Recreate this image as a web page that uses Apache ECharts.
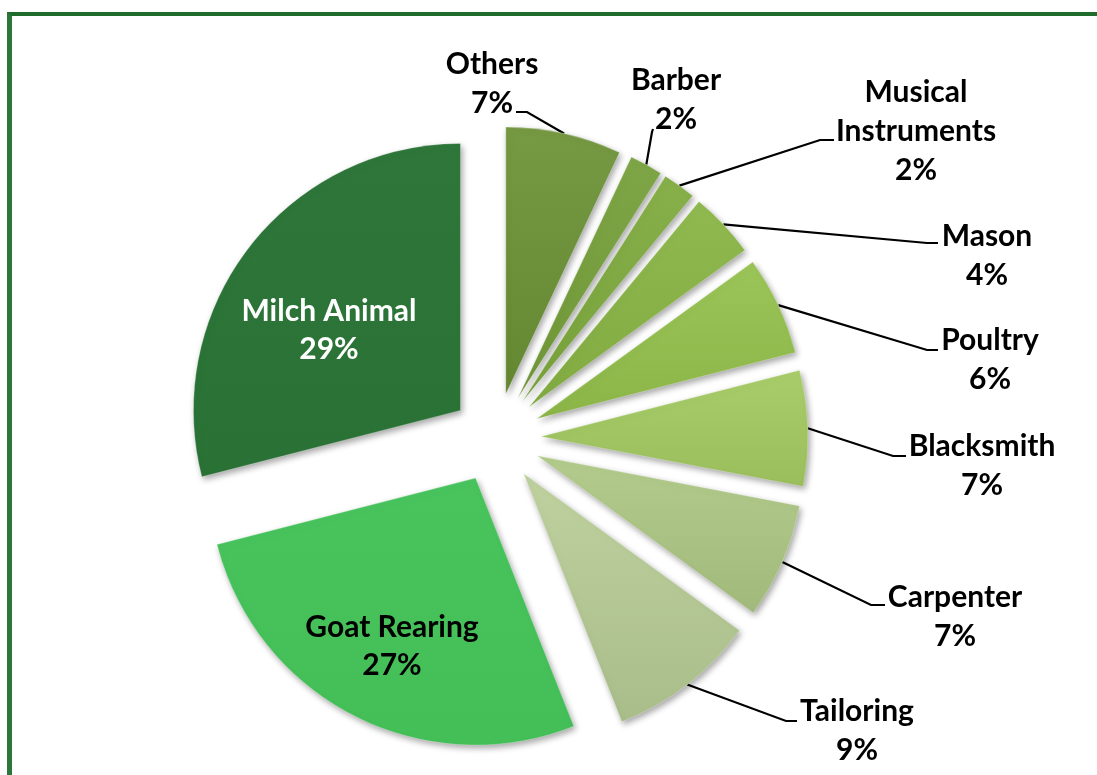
<!DOCTYPE html>
<html>
<head>
<meta charset="utf-8">
<script src="https://cdn.jsdelivr.net/npm/echarts@6/dist/echarts.min.js"></script>
<style>
html,body{margin:0;padding:0;background:#fff;overflow:hidden;width:1097px;height:775px}
#chart{position:absolute;left:0;top:0;width:1097px;height:775px}
#frame{position:absolute;left:7px;top:12px;width:1300px;height:1000px;box-sizing:border-box;
  border-top:4px solid #1f6b2b;border-left:5px solid #2b763a;pointer-events:none;z-index:2}
</style>
</head>
<body>
<div id="chart"></div>
<div id="frame"></div>
<script>
// ---- data ----
const categories = ['Others', 'Barber', 'Musical Instruments', 'Mason', 'Poultry', 'Blacksmith', 'Carpenter', 'Tailoring', 'Goat Rearing', 'Milch Animal'];
const shares = [7, 2, 2, 4, 6, 7, 7, 9, 27, 29];
const sliceColors = ['#6c9135', '#76a03a', '#7fab3e', '#89b545', '#95c14d', '#a3ca61', '#adc783', '#b8cd97', '#45c35a', '#2a7335'];

// ---- layout ----
const PIE_CX = 496, PIE_CY = 438, PIE_R = 267, EXPLODE = 45;
const labelSpots = [[492, 84], [676, 100], [916, 131], [987, 256], [990, 360], [982, 466], [955, 617], [857, 731], [392, 646], [329, 330]];
const leaderBends = [
  [[527, 112], [516, 112]],
  [[652, 132], [653, 129]],
  [[820, 140], [834, 140]],
  [[927, 243], [938, 243]],
  [[927, 350], [938, 350]],
  [[893, 456], [906, 456]],
  [[871, 605], [885, 605]],
  [[786, 721], [797, 721]],
  null, null
];
const gradStrength = [0.07, 0.06, 0.06, 0.06, 0.06, 0.06, 0.07, 0.08, 0.02, 0.02];

function shade(hex, f) {
  let c = [1, 3, 5].map(k => parseInt(hex.slice(k, k + 2), 16));
  c = c.map(v => Math.round(f > 0 ? v + (255 - v) * f : v * (1 + f)));
  return 'rgb(' + c.join(',') + ')';
}
const total = shares.reduce((a, b) => a + b, 0);
function sharesBefore(i) {
  let s = 0;
  for (let k = 0; k < i; k++) s += shares[k];
  return s;
}
function midAngleRad(i) {
  return (sharesBefore(i) + shares[i] / 2) / total * 2 * Math.PI;
}
function labelText(name) {
  return name === 'Musical Instruments' ? 'Musical\nInstruments' : name;
}

const chart = echarts.init(document.getElementById('chart'), null, { renderer: 'canvas' });

const hiddenStyle = { color: 'rgba(0,0,0,0)', borderWidth: 0, shadowBlur: 0, shadowColor: 'rgba(0,0,0,0)' };

const series = categories.map((name, i) => {
  const a = midAngleRad(i);
  const cx = PIE_CX + EXPLODE * Math.sin(a);
  const cy = PIE_CY - EXPLODE * Math.cos(a);
  const c = sliceColors[i];
  const g = gradStrength[i];
  const hasLeader = !!leaderBends[i];
  return {
    type: 'pie',
    name: name,
    center: [cx, cy],
    radius: [0, PIE_R],
    startAngle: 90 - sharesBefore(i) / total * 360,
    clockwise: true,
    avoidLabelOverlap: false,
    silent: true,
    emphasis: { disabled: true },
    animation: false,
    label: {
      show: true,
      position: hasLeader ? 'outside' : 'inside',
      fontFamily: 'Lato',
      fontWeight: 'bold',
      fontSize: 30,
      lineHeight: hasLeader ? 39 : 38,
      color: name === 'Milch Animal' ? '#ffffff' : '#000000',
      formatter: p => labelText(p.name) + '\n' + Math.round(p.percent) + '%'
    },
    labelLine: {
      show: hasLeader,
      length: 20,
      length2: 10,
      lineStyle: { color: '#000000', width: 2.2 }
    },
    labelLayout: function (p) {
      if (p.dataIndex !== 0) return {};
      const out = { x: labelSpots[i][0], y: labelSpots[i][1], align: 'center', verticalAlign: 'middle' };
      if (hasLeader) {
        const r = PIE_R + EXPLODE;
        out.labelLinePoints = [[PIE_CX + r * Math.sin(a), PIE_CY - r * Math.cos(a)], leaderBends[i][0], leaderBends[i][1]];
      }
      return out;
    },
    data: [
      {
        name: name,
        value: shares[i],
        itemStyle: {
          color: new echarts.graphic.LinearGradient(0, 0, 0, 1, [
            { offset: 0, color: shade(c, g) },
            { offset: 1, color: shade(c, -g) }
          ]),
          borderColor: 'rgba(255,255,255,0.25)',
          borderWidth: 1,
          shadowBlur: 6,
          shadowColor: 'rgba(0,0,0,0.35)',
          shadowOffsetX: 2,
          shadowOffsetY: 3
        }
      },
      {
        name: '',
        value: total - shares[i],
        itemStyle: hiddenStyle,
        label: { show: false },
        labelLine: { show: false }
      }
    ]
  };
});

chart.setOption({
  animation: false,
  backgroundColor: '#ffffff',
  series: series
});
</script>
</body>
</html>
